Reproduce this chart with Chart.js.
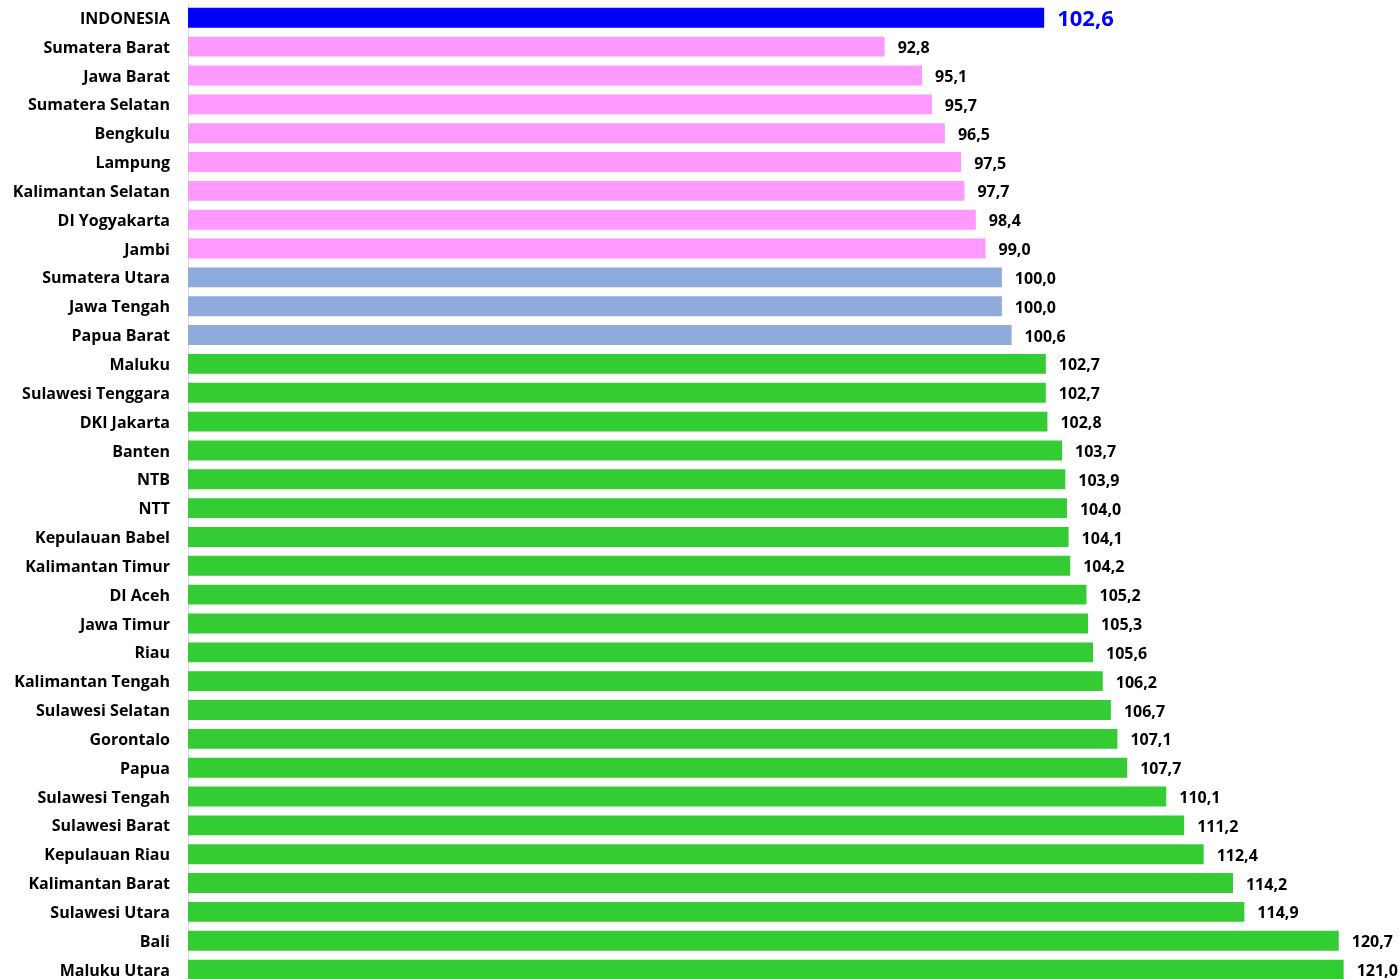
<!DOCTYPE html>
<html>
<head>
<meta charset="utf-8">
<script src="https://cdn.jsdelivr.net/npm/chart.js@4/dist/chart.umd.min.js"></script>
<style>
  html, body { margin: 0; padding: 0; background: #ffffff; overflow: hidden; }
  #wrap { position: relative; width: 1399px; height: 984px; }
</style>
</head>
<body>
<div id="wrap"><canvas id="c"></canvas></div>
<script>
const provinces = [
  "INDONESIA", "Sumatera Barat", "Jawa Barat", "Sumatera Selatan", "Bengkulu",
  "Lampung", "Kalimantan Selatan", "DI Yogyakarta", "Jambi", "Sumatera Utara",
  "Jawa Tengah", "Papua Barat", "Maluku", "Sulawesi Tenggara", "DKI Jakarta",
  "Banten", "NTB", "NTT", "Kepulauan Babel", "Kalimantan Timur", "DI Aceh",
  "Jawa Timur", "Riau", "Kalimantan Tengah", "Sulawesi Selatan", "Gorontalo",
  "Papua", "Sulawesi Tengah", "Sulawesi Barat", "Kepulauan Riau",
  "Kalimantan Barat", "Sulawesi Utara", "Bali", "Maluku Utara"
];
const values = [
  102.6, 92.8, 95.1, 95.7, 96.5,
  97.5, 97.7, 98.4, 99.0, 100.0,
  100.0, 100.6, 102.7, 102.7, 102.8,
  103.7, 103.9, 104.0, 104.1, 104.2, 105.2,
  105.3, 105.6, 106.2, 106.7, 107.1,
  107.7, 110.1, 111.2, 112.4,
  114.2, 114.9, 120.7, 121.0
];
const groups = [
  "national", "below", "below", "below", "below",
  "below", "below", "below", "below", "equal",
  "equal", "equal", "above", "above", "above",
  "above", "above", "above", "above", "above", "above",
  "above", "above", "above", "above", "above",
  "above", "above", "above", "above",
  "above", "above", "above", "above"
];

const groupColors = { national: "#0000ff", below: "#ff99ff", equal: "#8faadc", above: "#33cc33" };
const FONT = "'Open Sans', sans-serif";

const valueLabels = {
  id: "valueLabels",
  afterDatasetsDraw(chart) {
    const ctx = chart.ctx;
    const meta = chart.getDatasetMeta(0);
    ctx.save();
    ctx.textBaseline = "middle";
    ctx.textAlign = "left";
    meta.data.forEach((bar, i) => {
      const txt = values[i].toFixed(1).replace(".", ",");
      if (groups[i] === "national") {
        ctx.fillStyle = "#0000ff";
        ctx.font = "bold 22px " + FONT;
      } else {
        ctx.fillStyle = "#000000";
        ctx.font = "bold 16px " + FONT;
      }
      ctx.fillText(txt, bar.x + 13, bar.y + 2);
    });
    ctx.restore();
  }
};

new Chart(document.getElementById("c"), {
  type: "bar",
  data: {
    labels: provinces,
    datasets: [{
      data: values,
      backgroundColor: groups.map(g => groupColors[g]),
      borderWidth: 0,
      barPercentage: 0.69,
      categoryPercentage: 1.0
    }]
  },
  options: {
    indexAxis: "y",
    responsive: true,
    maintainAspectRatio: false,
    animation: false,
    layout: { padding: { top: 3.4, bottom: 0, left: 0, right: 0 } },
    plugins: { legend: { display: false }, tooltip: { enabled: false } },
    scales: {
      x: { display: false, min: 50, max: 124.4 },
      y: {
        afterFit(scale) {
          scale.width = 188;
          scale.paddingTop = 0;
          scale.paddingBottom = 0;
        },
        grid: { display: false, drawTicks: false },
        border: { display: true, color: "#d9d9d9", width: 1 },
        ticks: {
          padding: 18,
          labelOffset: 1.5,
          color: "#000000",
          font: { family: FONT, size: 16, weight: "bold" },
          autoSkip: false
        }
      }
    }
  },
  plugins: [valueLabels]
});
</script>
</body>
</html>
